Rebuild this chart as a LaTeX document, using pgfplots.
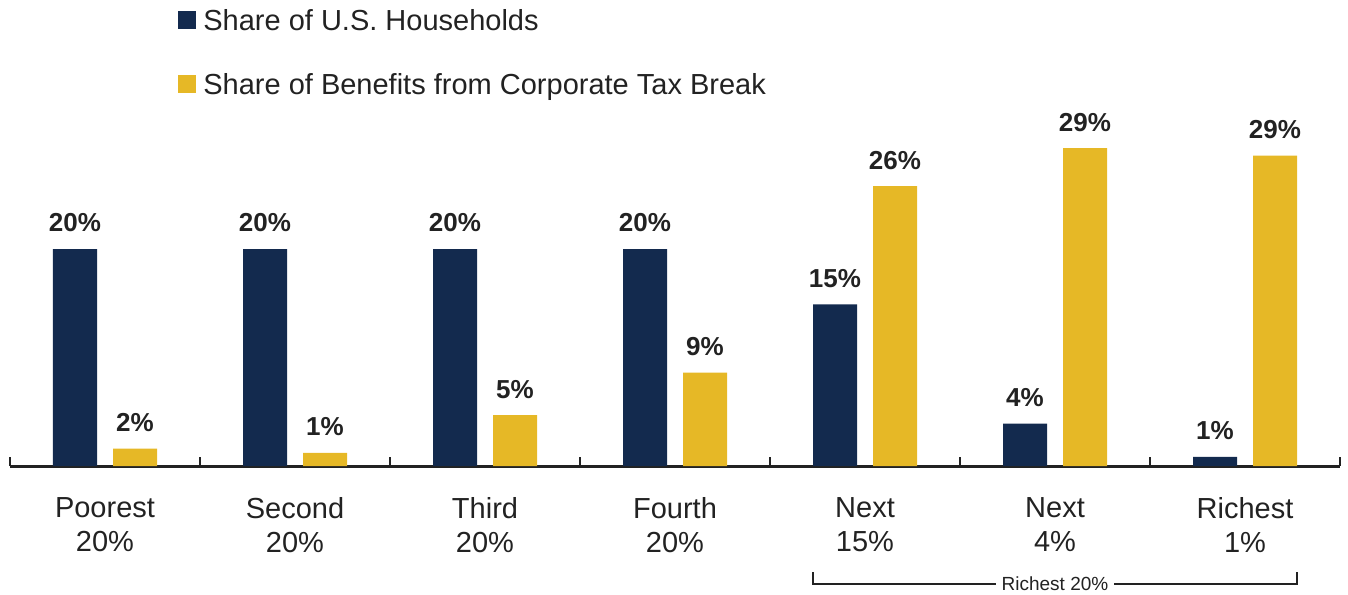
\documentclass[border=0pt]{standalone}
\usepackage{pgfplots}
\pgfplotsset{compat=1.18}
\usepackage{fontspec}
\setmainfont{Liberation Sans}
\definecolor{navy}{HTML}{132A4E}
\definecolor{gold}{HTML}{E6B826}
\definecolor{txt}{HTML}{222222}
\begin{document}
\begin{tikzpicture}
\useasboundingbox (-5pt,-64pt) rectangle (669pt,233pt);
\begin{axis}[
  scale only axis, width=665pt, height=173.6pt,
  xmin=-0.5, xmax=6.5, ymin=0, ymax=32,
  axis x line=bottom, axis y line=none,
  x axis line style={-, line width=1.5pt, color=txt},
  xtick={0,...,6},
  xticklabels={Poorest\\20\%, Second\\20\%, Third\\20\%, Fourth\\20\%, Next\\15\%, Next\\4\%, Richest\\1\%},
  xticklabel style={align=center, font=\fontsize{14.5}{17}\selectfont, text=txt, yshift=-12.3pt},
  major tick length=0pt,
  extra x ticks={-0.5,0.5,1.5,2.5,3.5,4.5,5.5,6.5},
  extra x tick labels={},
  extra x tick style={major tick length=4.5pt, tick align=inside, tick style={line width=1pt, color=txt}},
  ytick=\empty,
  clip=false,
  bar width=22pt,
  nodes near coords,
  point meta=explicit symbolic,
  every node near coord/.append style={anchor=base, yshift=8.5pt, inner sep=0pt, font=\bfseries\fontsize{13}{13}\selectfont, text=txt},
  legend style={draw=none, fill=none, at={(0.1263,1.3135)}, anchor=north west, inner sep=0pt,
    row sep=19pt, font=\fontsize{14.5}{14.5}\selectfont, text=txt,
    nodes={inner sep=0pt, text height=10pt, text depth=3pt}},
  legend cell align=left,
]
\addplot[ybar, bar shift=-15pt, fill=navy, draw=none,
  every node near coord/.append style={xshift=-15pt},
  legend image code/.code={\fill[navy] (0pt,-3pt) rectangle (9pt,6pt);}]
  coordinates {(0,20) [20\%] (1,20) [20\%] (2,20) [20\%] (3,20) [20\%] (4,14.9) [15\%] (5,3.9) [4\%] (6,0.85) [1\%]};
\addlegendentry{\hspace{3.5pt}Share of U.S. Households}
\addplot[ybar, bar shift=15pt, fill=gold, draw=none,
  every node near coord/.append style={xshift=15pt},
  legend image code/.code={\fill[gold] (0pt,-3pt) rectangle (9pt,6pt);}]
  coordinates {(0,1.6) [2\%] (1,1.2) [1\%] (2,4.7) [5\%] (3,8.6) [9\%] (4,25.8) [26\%] (5,29.3) [29\%] (6,28.6) [29\%]};
\addlegendentry{\hspace{3.5pt}Share of Benefits from Corporate Tax Break}
\draw[txt, line width=0.6pt] ([yshift=-53pt]axis cs:3.726,0) -- ([yshift=-59pt]axis cs:3.726,0) -- ([yshift=-59pt]axis cs:6.274,0) -- ([yshift=-53pt]axis cs:6.274,0);
\node[fill=white, inner xsep=3pt, inner ysep=1pt, font=\fontsize{9.5}{9.5}\selectfont, text=txt] at ([yshift=-59pt]axis cs:5,0) {Richest 20\%};
\end{axis}
\end{tikzpicture}
\end{document}
